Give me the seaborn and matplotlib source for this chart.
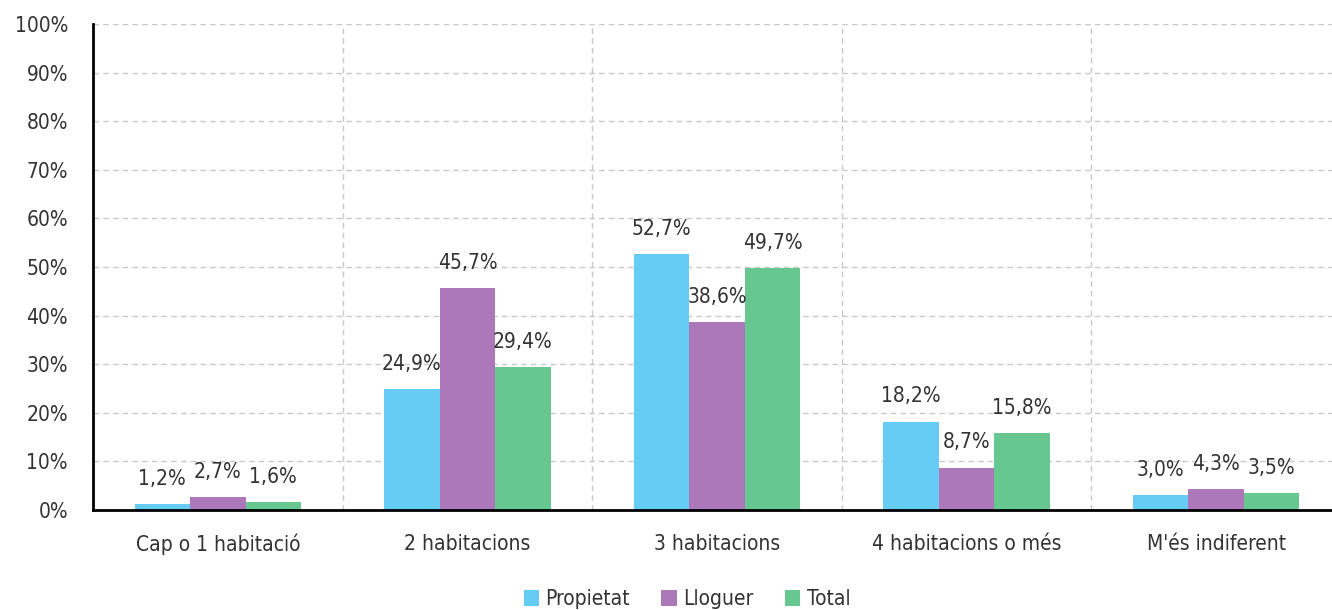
import numpy as np
import pandas as pd
import matplotlib.pyplot as plt
import seaborn as sns

sns.set_style("white")
plt.rcParams['font.family'] = ['DejaVu Sans']
plt.rcParams['font.stretch'] = 'condensed'

categories = ['Cap o 1 habitació', '2 habitacions', '3 habitacions',
              '4 habitacions o més', "M'és indiferent"]
series = ['Propietat', 'Lloguer', 'Total']
propietat = [1.2, 24.9, 52.7, 18.2, 3.0]
lloguer = [2.7, 45.7, 38.6, 8.7, 4.3]
total = [1.6, 29.4, 49.7, 15.8, 3.5]
colors = ['#66CCF5', '#AC78BA', '#66C791']

df = pd.DataFrame({
    'Categoria': categories * 3,
    'Serie': [s for s in series for _ in categories],
    'Valor': propietat + lloguer + total,
})

fig = plt.figure(figsize=(13.32, 6.10), dpi=100)
ax = fig.add_axes([93 / 1332, 100 / 610, 1248 / 1332, 486 / 610])
sns.barplot(data=df, x='Categoria', y='Valor', hue='Serie', order=categories,
            hue_order=series, palette=colors, width=0.667, saturation=1,
            linewidth=0, ax=ax)

text_color = '#333333'
for cont in ax.containers:
    ax.bar_label(cont, labels=[f"{v:.1f}%".replace('.', ',') for v in cont.datavalues],
                 padding=11, fontsize=15, color=text_color)

ax.set_ylim(0, 100)
ax.set_xlim(-0.5, len(categories) - 0.5)
ax.set_yticks(np.arange(0, 101, 10))
ax.set_yticklabels([f"{v}%" for v in range(0, 101, 10)])
ax.set_xticks(np.arange(-0.5, len(categories), 1.0), minor=True)
ax.tick_params(axis='x', which='major', length=0, pad=17, labelsize=15, labelcolor=text_color)
ax.tick_params(axis='x', which='minor', length=7, width=2, direction='out', color='black')
ax.tick_params(axis='y', length=7, width=2, direction='out', color='black',
               labelsize=15, labelcolor=text_color, pad=11)
ax.set_xlabel('')
ax.set_ylabel('')

ax.grid(axis='y', which='major', linestyle=(0, (4, 3)), color='#c8c8c8', linewidth=1)
ax.grid(axis='x', which='minor', linestyle=(0, (4, 3)), color='#c8c8c8', linewidth=1)
ax.grid(axis='x', which='major', visible=False)
ax.set_axisbelow(True)

for s in ['top', 'right']:
    ax.spines[s].set_visible(False)
for s in ['left', 'bottom']:
    ax.spines[s].set_color('black')
    ax.spines[s].set_linewidth(2)

handles, labels = ax.get_legend_handles_labels()
ax.legend(handles, labels, loc='lower center', bbox_to_anchor=(0.476, -100 / 486 - 0.037),
          ncol=3, frameon=False, fontsize=15, handlelength=0.75, handleheight=0.75,
          handletextpad=0.3, columnspacing=1.5, labelcolor=text_color)

fig.savefig('out.png', dpi=100)
